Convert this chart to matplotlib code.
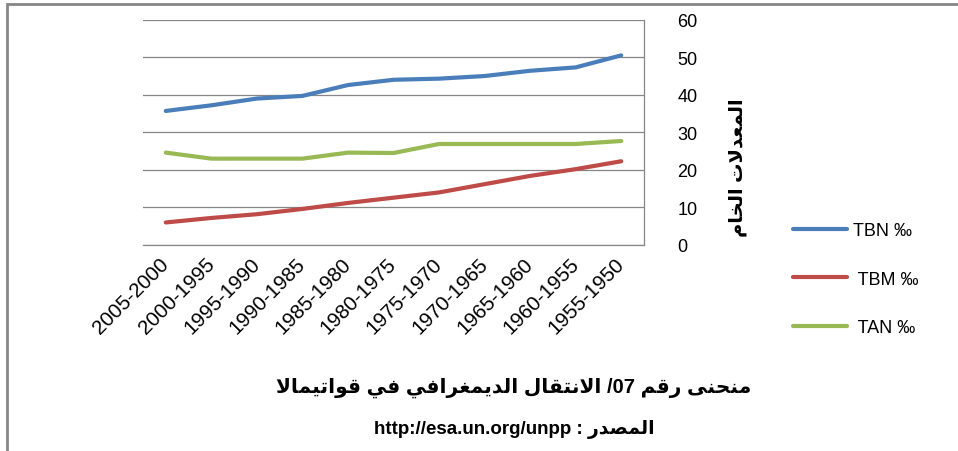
import re
import matplotlib
matplotlib.use("Agg")
import matplotlib.pyplot as plt
from matplotlib.patches import Rectangle

plt.rcParams['font.family'] = ['Liberation Sans', 'DejaVu Sans']

periods = ["2005-2000", "2000-1995", "1995-1990", "1990-1985", "1985-1980",
           "1980-1975", "1975-1970", "1970-1965", "1965-1960", "1960-1955",
           "1955-1950"]
tbn = [35.7, 37.2, 39.0, 39.7, 42.6, 44.0, 44.3, 45.0, 46.4, 47.3, 50.5]
tbm = [6.0, 7.2, 8.2, 9.6, 11.2, 12.6, 14.0, 16.2, 18.4, 20.2, 22.3]
tan = [24.6, 23.0, 23.0, 23.0, 24.6, 24.5, 26.9, 26.9, 26.9, 26.9, 27.7]
series_names = ["TBN ‰", " TBM ‰", " TAN ‰"]
yticks = [0, 10, 20, 30, 40, 50, 60]

title_text = "منحنى رقم 07/ الانتقال الديمغرافي في قواتيمالا"
source_text = "المصدر : http://esa.un.org/unpp"
ylabel_text = "المعدلات الخام"

# contextual forms: isolated, final, initial, medial
FORMS = {
    'ا': (0xFE8D, 0xFE8E, None, None),
    'ت': (0xFE95, 0xFE96, 0xFE97, 0xFE98),
    'ح': (0xFEA1, 0xFEA2, 0xFEA3, 0xFEA4),
    'خ': (0xFEA5, 0xFEA6, 0xFEA7, 0xFEA8),
    'د': (0xFEA9, 0xFEAA, None, None),
    'ر': (0xFEAD, 0xFEAE, None, None),
    'ص': (0xFEB9, 0xFEBA, 0xFEBB, 0xFEBC),
    'ع': (0xFEC9, 0xFECA, 0xFECB, 0xFECC),
    'غ': (0xFECD, 0xFECE, 0xFECF, 0xFED0),
    'ف': (0xFED1, 0xFED2, 0xFED3, 0xFED4),
    'ق': (0xFED5, 0xFED6, 0xFED7, 0xFED8),
    'ل': (0xFEDD, 0xFEDE, 0xFEDF, 0xFEE0),
    'م': (0xFEE1, 0xFEE2, 0xFEE3, 0xFEE4),
    'ن': (0xFEE5, 0xFEE6, 0xFEE7, 0xFEE8),
    'و': (0xFEED, 0xFEEE, None, None),
    'ى': (0xFEEF, 0xFEF0, None, None),
    'ي': (0xFEF1, 0xFEF2, 0xFEF3, 0xFEF4),
    'لا': (0xFEFB, 0xFEFC, None, None),
}


def shape(word):
    units = []
    i = 0
    while i < len(word):
        if word[i] == 'ل' and i + 1 < len(word) and word[i + 1] == 'ا':
            units.append('لا')
            i += 2
        else:
            units.append(word[i])
            i += 1
    out = []
    for k, u in enumerate(units):
        if u not in FORMS:
            out.append(u)
            continue
        iso, fin, ini, med = FORMS[u]
        prev = units[k - 1] if k > 0 else None
        nxt = units[k + 1] if k + 1 < len(units) else None
        jp = prev in FORMS and FORMS[prev][2] is not None
        jn = ini is not None and nxt in FORMS
        if jp and jn:
            c = med
        elif jp:
            c = fin
        elif jn:
            c = ini
        else:
            c = iso
        out.append(chr(c))
    return ''.join(out)


def rtl(text):
    # crude right-to-left layout: reverse word order, shape arabic words
    words = []
    for w in text.split()[::-1]:
        if any(ch in FORMS for ch in w):
            words.append(shape(w)[::-1])
        else:
            m = re.match(r'^(\w.*\w|\w)(\W+)$', w)
            words.append(m.group(2) + m.group(1) if m else w)
    return ' '.join(words)


W, H = 958, 452
fig = plt.figure(figsize=(W / 100, H / 100), dpi=100)
ax = fig.add_axes([143 / W, 1 - 246 / H, (644 - 143) / W, (246 - 20.7) / H])

x = list(range(len(periods)))
colors = ["#4A7EBB", "#BE4B48", "#98B954"]
for vals, c, name in zip([tbn, tbm, tan], colors, series_names):
    ax.plot(x, vals, color=c, lw=3, label=name, solid_capstyle='round')

ax.set_xlim(-0.5, len(periods) - 0.5)
ax.set_ylim(0, 60)
ax.set_yticks(yticks)
ax.yaxis.tick_right()
ax.tick_params(axis='y', length=0, pad=24, labelsize=13)
ax.grid(axis='y', color='#868686', lw=0.9)
ax.set_axisbelow(True)
ax.set_xticks(x)
ax.set_xticklabels(periods, rotation=45, ha='right', va='center',
                   rotation_mode='anchor', fontsize=14.8)
ax.tick_params(axis='x', length=0, pad=11)
for s in ['left', 'top']:
    ax.spines[s].set_visible(False)
for s in ['right', 'bottom']:
    ax.spines[s].set_color('#868686')
    ax.spines[s].set_linewidth(0.9)

ax.legend(loc='upper left', bbox_to_anchor=(784 / W, 1 - 214 / H),
          bbox_transform=fig.transFigure, frameon=False, borderpad=0,
          fontsize=13, handlelength=3.0, handletextpad=0.3, labelspacing=1.75)

fig.text(738 / W, 1 - 168 / H, rtl(ylabel_text),
         rotation=90, ha='center', va='center', fontsize=14, fontweight='bold')

fig.text(514 / W, 1 - 388 / H, rtl(title_text),
         ha='center', va='center', fontsize=14.5, fontweight='bold')
fig.text(514 / W, 1 - 430 / H, rtl(source_text),
         ha='center', va='center', fontsize=13.5, fontweight='bold')

# outer chart frame (only top and left edges fall inside the picture)
fig.add_artist(Rectangle((7 / W, -0.1), 1.2, 1.1 - 5 / H, transform=fig.transFigure,
                         fill=False, edgecolor='#868686', lw=2))

fig.savefig("out.png", dpi=100)
